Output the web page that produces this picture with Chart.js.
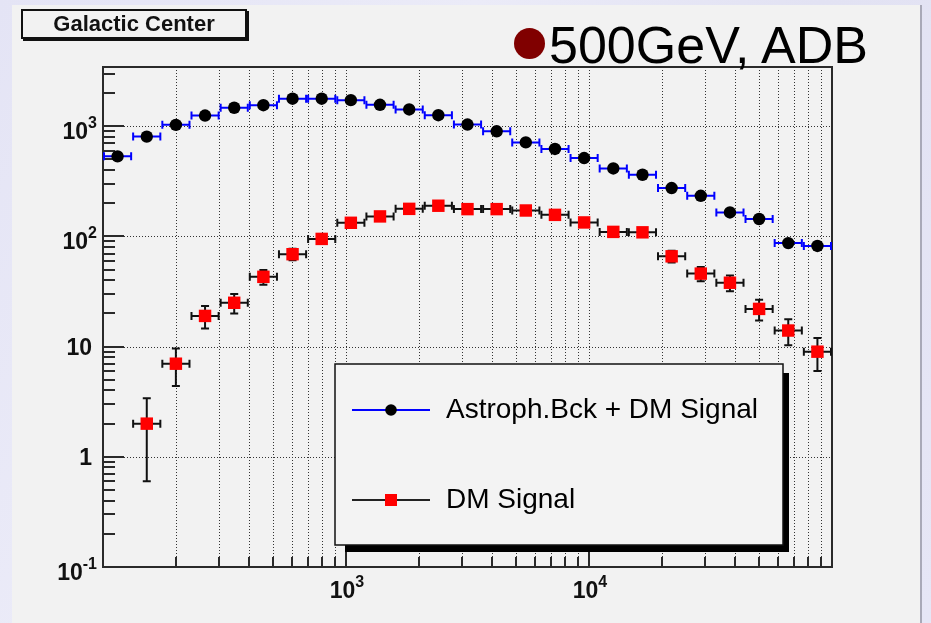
<!DOCTYPE html>
<html>
<head>
<meta charset="utf-8">
<title>Galactic Center</title>
<script src="https://cdn.jsdelivr.net/npm/chart.js@4.4.1/dist/chart.umd.min.js"></script>
<style>
  html, body { margin: 0; padding: 0; }
  body {
    width: 931px; height: 623px; overflow: hidden; position: relative;
    background: linear-gradient(125deg, #e4e4f5 0%, #ebebf8 35%, #e2e2f3 60%, #e6e6f6 100%);
    font-family: "Liberation Sans", Arial, Helvetica, sans-serif;
  }
  #panel {
    position: absolute; left: 12px; top: 5px; width: 908px; height: 618px;
    background: #f2f2f2; border-right: 2px solid #a9a9b8;
  }
  #chartCanvas { position: absolute; left: 0; top: 0; }
  #title {
    position: absolute; left: 21px; top: 9px; width: 226px; height: 30px;
    box-sizing: border-box; border: 2px solid #111; box-shadow: 2px 2px 0 #111;
    background: #f2f2f2; font-weight: bold; font-size: 22px;
    text-align: center; line-height: 26px; color: #111;
  }
  #bullet {
    position: absolute; left: 514px; top: 28px; width: 31px; height: 31px;
    border-radius: 50%; background: #800000;
  }
  #note {
    position: absolute; left: 549px; top: 19px; font-size: 52px;
    line-height: 52px; color: #000; white-space: nowrap;
  }
</style>
</head>
<body>
<div id="panel"></div>
<canvas id="chartCanvas" width="931" height="623"></canvas>
<div id="title">Galactic Center</div>
<div id="bullet"></div>
<div id="note">500GeV, ADB</div>
<script>
// bins (log spaced), edges and centres
var binEdges = [100, 131.8, 173.8, 229.1, 302.0, 398.1, 524.8, 691.8, 912.0, 1202, 1585, 2089,
  2754, 3631, 4786, 6310, 8318, 10960, 14450, 19050, 25120, 33110, 43650, 57540, 75860, 100000];
var binCenters = [114.8, 151.4, 199.5, 263.0, 346.7, 457.1, 602.6, 794.3, 1047, 1380, 1820, 2399,
  3162, 4169, 5495, 7244, 9550, 12590, 16600, 21880, 28840, 38020, 50120, 66070, 87100];

// Astroph.Bck + DM Signal
var totalCounts = [533, 806, 1030, 1251, 1472, 1553, 1778, 1778, 1725, 1566, 1420, 1260,
  1036, 900, 714, 622, 515, 414, 363, 275, 234, 165, 144, 87, 82];

// DM Signal
var signalCounts = [null, 2, 7, 19, 25, 43, 69, 95, 133, 152, 178, 190,
  177, 177, 172, 157, 134, 110, 109, 66, 46, 38, 22, 14, 9];
var signalErrors = [null, 1.4, 2.6, 4.4, 5, 6.6, 8.3, 9.7, 11.5, 12.3, 13.3, 13.8,
  13.3, 13.3, 13.1, 12.5, 11.6, 10.5, 10.4, 8.1, 6.8, 6.2, 4.7, 3.7, 3];

var xTickValues = [1000, 10000];
var xTickLabels = [["10", "3"], ["10", "4"]];
var yTickValues = [0.1, 1, 10, 100, 1000];
var yTickLabels = [["10", "-1"], ["1", ""], ["10", ""], ["10", "2"], ["10", "3"]];

function toPoints(ys) {
  var pts = [];
  for (var i = 0; i < binCenters.length; i++) {
    if (ys[i] != null) pts.push({ x: binCenters[i], y: ys[i], i: i });
  }
  return pts;
}

var errorInfo = [
  { errs: null, color: "#0000ff" },
  { errs: signalErrors, color: "#111111" }
];

var FONT = '"Liberation Sans", Arial, Helvetica, sans-serif';

// dotted grid, inner ticks and frame (ROOT style)
var framePlugin = {
  id: "frame",
  beforeDatasetsDraw: function (chart) {
    var ctx = chart.ctx, a = chart.chartArea;
    var xs = chart.scales.x, ys = chart.scales.y;
    ctx.save();
    ctx.strokeStyle = "#333";
    ctx.lineWidth = 1;
    ctx.setLineDash([1, 2]);
    for (var d = 100; d < 100000; d *= 10) {
      for (var m = 1; m < 10; m++) {
        var v = d * m;
        if (v <= 100) continue;
        var px = Math.round(xs.getPixelForValue(v)) + 0.5;
        ctx.beginPath(); ctx.moveTo(px, a.top); ctx.lineTo(px, a.bottom); ctx.stroke();
      }
    }
    for (var k = 1; k < yTickValues.length; k++) {
      var py = Math.round(ys.getPixelForValue(yTickValues[k])) + 0.5;
      ctx.beginPath(); ctx.moveTo(a.left, py); ctx.lineTo(a.right, py); ctx.stroke();
    }
    ctx.setLineDash([]);
    ctx.lineWidth = 2;
    ctx.strokeStyle = "#2a2a2a";
    // x ticks
    for (var d2 = 100; d2 < 100000; d2 *= 10) {
      for (var m2 = 1; m2 < 10; m2++) {
        var v2 = d2 * m2;
        if (v2 <= 100) continue;
        var px2 = Math.round(xs.getPixelForValue(v2));
        var len = m2 === 1 ? 20 : 10;
        ctx.beginPath(); ctx.moveTo(px2, a.bottom); ctx.lineTo(px2, a.bottom - len); ctx.stroke();
      }
    }
    // y ticks
    for (var d3 = 0.1; d3 < 10000; d3 *= 10) {
      for (var m3 = 1; m3 < 10; m3++) {
        var v3 = d3 * m3;
        if (v3 > ys.max) break;
        var py3 = Math.round(ys.getPixelForValue(v3));
        var len3 = m3 === 1 ? 21 : 12;
        ctx.beginPath(); ctx.moveTo(a.left, py3); ctx.lineTo(a.left + len3, py3); ctx.stroke();
      }
    }
    ctx.strokeRect(a.left, a.top, a.right - a.left, a.bottom - a.top);

    // tick labels
    ctx.fillStyle = "#111";
    function powLabel(base, exp, x, y, align) {
      ctx.font = "bold 23px " + FONT;
      var wb = ctx.measureText(base).width;
      ctx.font = "bold 16px " + FONT;
      var we = exp ? ctx.measureText(exp).width : 0;
      var x0 = align === "right" ? x - wb - we : x - (wb + we) / 2;
      ctx.textAlign = "left";
      ctx.textBaseline = "alphabetic";
      ctx.font = "bold 23px " + FONT;
      ctx.fillText(base, x0, y);
      if (exp) {
        ctx.font = "bold 16px " + FONT;
        ctx.fillText(exp, x0 + wb, y - 11);
      }
    }
    for (var i = 0; i < yTickValues.length; i++) {
      var ty = ys.getPixelForValue(yTickValues[i]);
      var lab = yTickLabels[i];
      if (lab[1]) powLabel(lab[0], lab[1], 97, ty + 13, "right");
      else powLabel(lab[0], "", 92, ty + 8, "right");
    }
    for (var j = 0; j < xTickValues.length; j++) {
      var tx = xs.getPixelForValue(xTickValues[j]);
      powLabel(xTickLabels[j][0], xTickLabels[j][1], tx + 1, 598, "center");
    }
    ctx.restore();

    // error bars: bin width horizontally, counting error vertically
    ctx.save();
    ctx.lineWidth = 2;
    chart.data.datasets.forEach(function (ds, di) {
      var info = errorInfo[di];
      ctx.strokeStyle = info.color;
      ds.data.forEach(function (p) {
        var i = p.i;
        var xl = xs.getPixelForValue(binEdges[i]), xr = xs.getPixelForValue(binEdges[i + 1]);
        var yc = ys.getPixelForValue(p.y);
        var xc = xs.getPixelForValue(p.x);
        ctx.beginPath();
        ctx.moveTo(xl, yc); ctx.lineTo(xr, yc);
        ctx.moveTo(xl + 1, yc - 4); ctx.lineTo(xl + 1, yc + 4);
        ctx.moveTo(xr - 1, yc - 4); ctx.lineTo(xr - 1, yc + 4);
        if (info.errs) {
          var yt = ys.getPixelForValue(p.y + info.errs[i]);
          var yb = ys.getPixelForValue(Math.max(p.y - info.errs[i], 0.1001));
          ctx.moveTo(xc, yt); ctx.lineTo(xc, yb);
          ctx.moveTo(xc - 4, yt); ctx.lineTo(xc + 4, yt);
          ctx.moveTo(xc - 4, yb); ctx.lineTo(xc + 4, yb);
        }
        ctx.stroke();
      });
    });
    ctx.restore();
  }
};

// legend box with shadow
var legendPlugin = {
  id: "rootLegend",
  afterDatasetsDraw: function (chart) {
    var ctx = chart.ctx;
    var bx = 335, by = 364, bw = 448, bh = 181;
    ctx.save();
    ctx.fillStyle = "#000";
    ctx.fillRect(bx + 10, by + 9, bw - 4, bh - 2);
    ctx.fillStyle = "#f3f3f3";
    ctx.fillRect(bx, by, bw, bh);
    ctx.strokeStyle = "#111";
    ctx.lineWidth = 1.5;
    ctx.strokeRect(bx, by, bw, bh);

    var rows = [410, 500];
    var lineColors = ["#0000ff", "#222"];
    chart.data.datasets.forEach(function (ds, di) {
      var y = rows[di];
      ctx.strokeStyle = lineColors[di];
      ctx.lineWidth = 2;
      ctx.beginPath(); ctx.moveTo(352, y); ctx.lineTo(430, y); ctx.stroke();
      ctx.fillStyle = ds.backgroundColor;
      if (ds.pointStyle === "circle") {
        ctx.beginPath(); ctx.arc(391, y, 5.8, 0, Math.PI * 2); ctx.fill();
      } else {
        ctx.fillRect(385, y - 6, 12, 12);
      }
      ctx.fillStyle = "#000";
      ctx.font = "28px " + FONT;
      ctx.textAlign = "left";
      ctx.textBaseline = "alphabetic";
      ctx.fillText(ds.label, 446, y + 8);
    });
    ctx.restore();
  }
};

var ctx = document.getElementById("chartCanvas");
var chart = new Chart(ctx, {
  type: "scatter",
  data: {
    datasets: [
      {
        label: "Astroph.Bck + DM Signal",
        data: toPoints(totalCounts),
        pointStyle: "circle",
        pointRadius: 6.2,
        backgroundColor: "#000000",
        borderColor: "#000000",
        borderWidth: 0
      },
      {
        label: "DM Signal",
        data: toPoints(signalCounts),
        pointStyle: "rect",
        pointRadius: 8.8,
        backgroundColor: "#ff0000",
        borderColor: "#ff0000",
        borderWidth: 0
      }
    ]
  },
  options: {
    responsive: false,
    animation: false,
    devicePixelRatio: 1,
    layout: { padding: { left: 103, right: 99, top: 67, bottom: 56 } },
    plugins: { legend: { display: false }, tooltip: { enabled: false } },
    scales: {
      x: { type: "logarithmic", min: 100, max: 100000, display: false },
      y: { type: "logarithmic", min: 0.1, max: 3450, display: false }
    }
  },
  plugins: [framePlugin, legendPlugin]
});
</script>
</body>
</html>
